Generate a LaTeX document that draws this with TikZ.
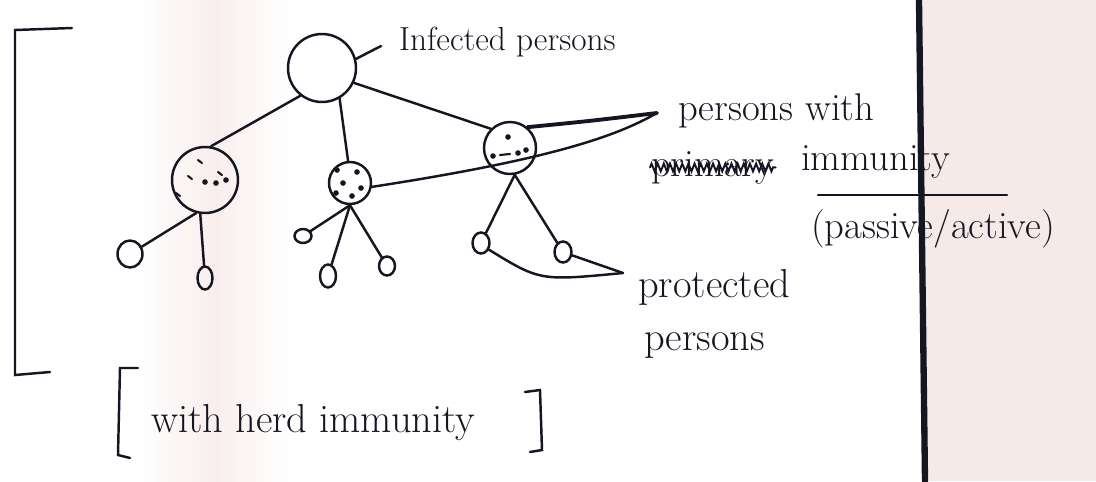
\documentclass[tikz,border=0pt]{standalone}
\usepackage{tikz}
\usetikzlibrary{shapes.geometric,decorations.pathmorphing}
\definecolor{ink}{RGB}{22,22,34}
\definecolor{paper}{RGB}{246,234,232}

\begin{document}
\begin{tikzpicture}[x=0.02cm, y=-0.02cm, line width=1.4pt, color=ink, line cap=round,
    bigc/.style={circle, draw, inner sep=0pt},
    leaf/.style={ellipse, draw, inner sep=0pt, minimum width=0.34cm, minimum height=0.42cm},
    note/.style={font=\fontsize{22}{26}\selectfont, inner sep=0pt, anchor=base west}]
  % Paper
  \useasboundingbox (0,0) rectangle (1096,481);
  \fill[white] (0,0) rectangle (1096,481);
  \shade[left color=white, right color=white, middle color=paper!80] (140,0) rectangle (290,481);
  \fill[paper] (922,0) rectangle (1096,481);
  % Outer bracket
  \draw (72,28) -- (15,30) -- (15,375) -- (50,372);
  % Infected person and the persons with immunity
  \node[bigc, minimum size=1.36cm] (root) at (322,68) {};
  \node[bigc, minimum size=1.32cm] (lc) at (205,180) {};
  \node[bigc, minimum size=0.84cm] (mc) at (350,183) {};
  \node[bigc, minimum size=1.04cm] (rc) at (510,148) {};
  \draw (root.232) -- (lc.80);
  \draw (root.300) -- (mc.95);
  \draw (root.335) -- (rc.135);
  % Speckles inside the immune persons
  \foreach \a/\b in {198/160, 188/176, 218/172, 176/193}
    \draw[line width=1.2pt] (\a,\b) -- ++(4,3);
  \foreach \p in {(205,182), (216,183), (226,180), (337,170), (357,172), (343,183),
                  (361,188), (336,193), (352,196), (508,137), (493,156), (518,153), (526,150)}
    \fill \p circle (1.6pt);
  \draw[line width=1.2pt] (500,155) -- (510,154);
  % Protected persons
  \node[leaf, minimum width=0.5cm, minimum height=0.54cm] (l1) at (130,254) {};
  \node[leaf, minimum width=0.3cm, minimum height=0.46cm] (l2) at (205,278) {};
  \node[leaf, minimum width=0.34cm, minimum height=0.28cm] (m1) at (303,236) {};
  \node[leaf, minimum width=0.32cm, minimum height=0.46cm] (m2) at (328,276) {};
  \node[leaf, minimum width=0.32cm, minimum height=0.38cm] (m3) at (387,266) {};
  \node[leaf] (r1) at (481,243) {};
  \node[leaf] (r2) at (563,252) {};
  \draw (lc.255) -- (l1);
  \draw (lc.262) -- (l2);
  \foreach \k in {m1,m2,m3} \draw (mc.270) -- (\k);
  \foreach \k in {r1,r2} \draw (rc.280) -- (\k);
  % Labels
  \coordinate (infc) at (381,46);
  \draw (root.15) -- (infc);
  \node[note, font=\fontsize{19}{23}\selectfont] (infected) at (398,50) {Infected persons};
  \coordinate (immtip) at (657,113);
  \draw[line width=2.2pt] (rc.50) .. controls (590,121) .. (immtip);
  \draw (mc.-10) .. controls (560,158) and (620,134) .. (immtip);
  \node[note] (perswith) at (677,120) {persons with};
  \node[note] (prim) at (650,176) {primary};
  \draw[line width=1.1pt, decorate, decoration={zigzag, amplitude=2.2pt, segment length=3.5pt}]
    (prim.west) -- (prim.east);
  \node[note] (immunity) at (800,170) {immunity};
  \draw (818,195) -- (1007,195);
  \node[note] (kind) at (810,238) {(passive/active)};
  \coordinate (protip) at (623,273);
  \draw (r1.-40) .. controls (540,281) .. (protip);
  \draw (r2.-20) -- (protip);
  \node[note, font=\fontsize{23}{27}\selectfont] (protected) at (637,297) {protected};
  \node[note, font=\fontsize{23}{27}\selectfont] (protpers) at (643,350) {persons};
  % Herd immunity
  \draw (138,368) -- (120,368) -- (118,455) -- (130,458);
  \node[note, font=\fontsize{23}{27}\selectfont] (herd) at (150,432) {with herd immunity};
  \draw (525,392) -- (540,390) -- (542,450) -- (530,452);
  % Page edge line
  \draw[line width=3.6pt] (919,0) -- (925,481);
\end{tikzpicture}
\end{document}
